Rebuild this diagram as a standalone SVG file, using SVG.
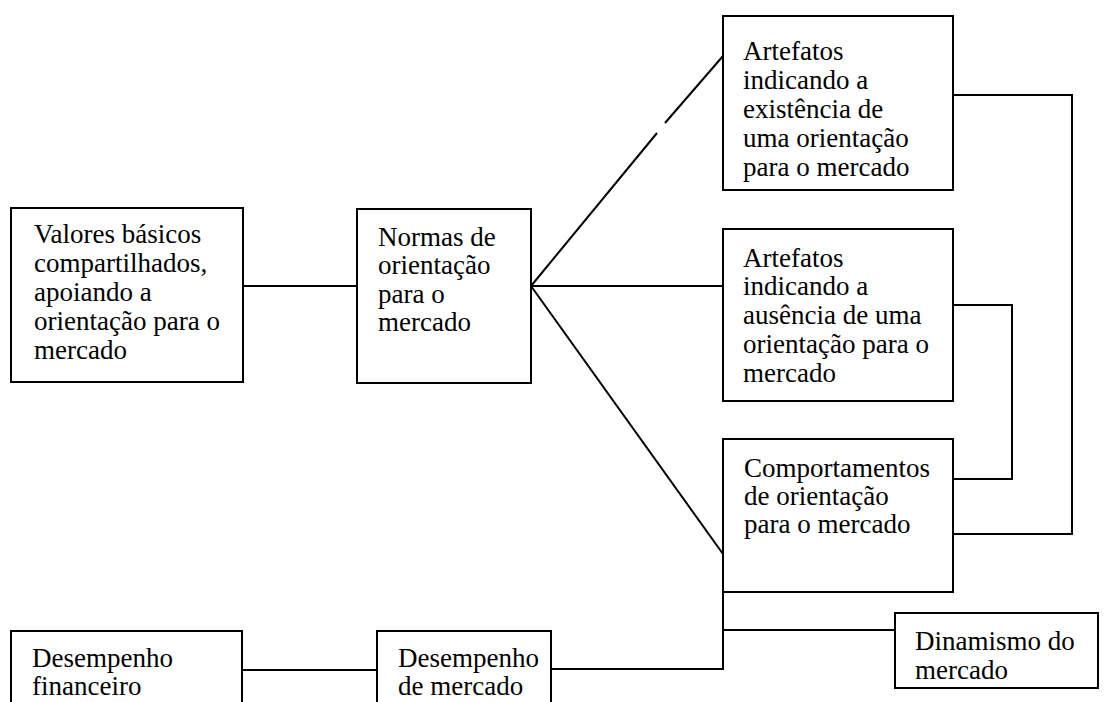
<svg xmlns="http://www.w3.org/2000/svg" width="1113" height="702" viewBox="0 0 1113 702">
<style>
.box{fill:#fff;stroke:#000;stroke-width:2}
.ln{fill:none;stroke:#000;stroke-width:2}
text{font-family:"Liberation Serif","Times New Roman",serif;font-size:27px;fill:#000}
</style>
<rect width="1113" height="702" fill="#fff"/>
<g id="connectors">
<line class="ln" x1="243" y1="286" x2="357" y2="286"/>
<line class="ln" x1="531" y1="286" x2="657" y2="133"/>
<line class="ln" x1="665" y1="123" x2="723" y2="56"/>
<line class="ln" x1="531" y1="286" x2="723" y2="286"/>
<line class="ln" x1="531" y1="286" x2="723" y2="554"/>
<polyline class="ln" points="953,95 1072,95 1072,534 953,534"/>
<polyline class="ln" points="953,305 1012,305 1012,479 953,479"/>
<polyline class="ln" points="723,592 723,669 551,669"/>
<line class="ln" x1="723" y1="630" x2="895" y2="630"/>
<line class="ln" x1="242" y1="670" x2="377" y2="670"/>
</g>
<g id="valores">
<rect class="box" x="11" y="208" width="232" height="174"/>
<text x="34" y="243">Valores básicos</text>
<text x="34" y="272">compartilhados,</text>
<text x="34" y="301">apoiando a</text>
<text x="34" y="330">orientação para o</text>
<text x="34" y="359">mercado</text>
</g>
<g id="normas">
<rect class="box" x="357" y="209" width="174" height="174"/>
<text x="378" y="246">Normas de</text>
<text x="378" y="274">orientação</text>
<text x="378" y="303">para o</text>
<text x="378" y="331">mercado</text>
</g>
<g id="artefatos-existencia">
<rect class="box" x="723" y="16" width="230" height="174"/>
<text x="743" y="60">Artefatos</text>
<text x="743" y="89">indicando a</text>
<text x="743" y="118">existência de</text>
<text x="743" y="147">uma orientação</text>
<text x="743" y="176">para o mercado</text>
</g>
<g id="artefatos-ausencia">
<rect class="box" x="723" y="229" width="230" height="172"/>
<text x="743" y="267">Artefatos</text>
<text x="743" y="295">indicando a</text>
<text x="743" y="324">ausência de uma</text>
<text x="743" y="353">orientação para o</text>
<text x="743" y="382">mercado</text>
</g>
<g id="comportamentos">
<rect class="box" x="723" y="439" width="230" height="153"/>
<text x="744" y="477">Comportamentos</text>
<text x="744" y="505">de orientação</text>
<text x="744" y="533">para o mercado</text>
</g>
<g id="dinamismo">
<rect class="box" x="895" y="613" width="203" height="75"/>
<text x="915" y="650">Dinamismo do</text>
<text x="915" y="679">mercado</text>
</g>
<g id="desempenho-financeiro">
<rect class="box" x="11" y="631" width="231" height="90"/>
<text x="32" y="667">Desempenho</text>
<text x="32" y="695">financeiro</text>
</g>
<g id="desempenho-mercado">
<rect class="box" x="377" y="631" width="174" height="90"/>
<text x="398" y="667">Desempenho</text>
<text x="398" y="695">de mercado</text>
</g>
</svg>
